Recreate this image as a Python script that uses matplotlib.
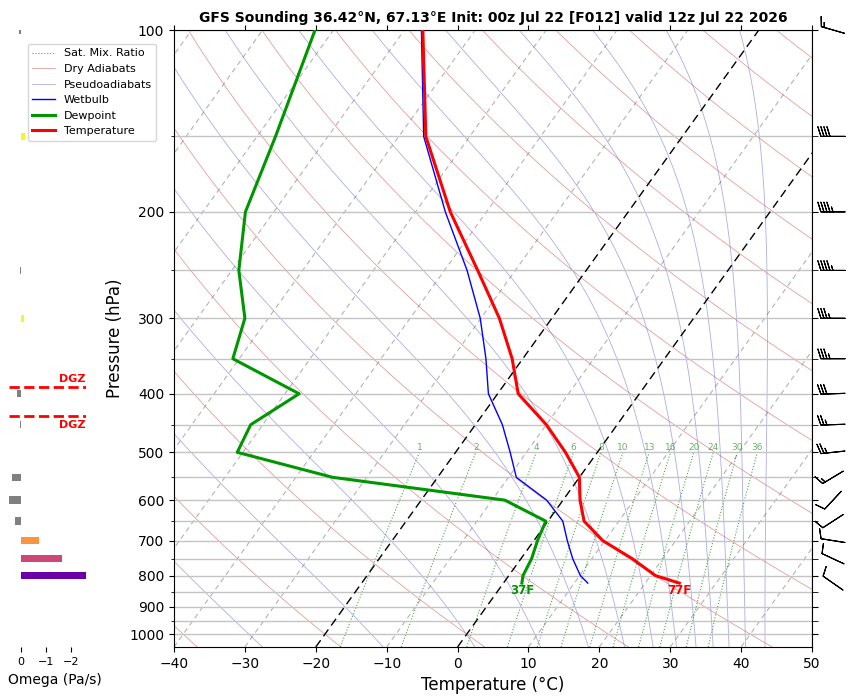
#!/usr/bin/env python3
"""
Skew-T (GFS) com painel de omega à esquerda e barbelas de vento à direita.
Saída: out.png
"""

import numpy as np
import matplotlib
matplotlib.use("Agg")
import matplotlib.pyplot as plt
from matplotlib import transforms
from matplotlib.ticker import NullFormatter

TITLE = "GFS Sounding 36.42°N, 67.13°E Init: 00z Jul 22 [F012] valid 12z Jul 22 2026"

# perfil (hPa, °C)
pressure = [823, 800, 750, 700, 650, 600, 550, 500, 450, 400, 350, 300, 250, 200, 150, 100]
temperature = [24.8, 20.7, 15.7, 9.7, 5.1, 2.4, 0.0, -4.5, -10.0, -17.1, -21.5, -27.4,
               -35.3, -45.1, -56.2, -67.4]
dewpoint = [2.6, 2.0, 1.5, 0.5, -0.3, -8.2, -34.8, -50.8, -51.7, -48.0, -60.9, -63.3,
            -69.0, -74.0, -77.4, -82.6]
wetbulb = [11.9, 10.1, 7.3, 4.7, 2.1, -2.3, -8.9, -12.3, -16.2, -21.3, -25.2, -30.1,
           -36.8, -45.8, -56.5, -67.6]

# vento: direção de onde sopra (graus) e velocidade (kt)
wind_pressure = [823, 750, 700, 650, 600, 550, 500, 450, 400, 350, 300, 250, 200, 150, 100]
wind_dir = [305, 295, 279, 237, 223, 239, 264, 268, 268, 270, 270, 270, 270, 270, 286]
wind_speed = [10, 10, 10, 10, 10, 15, 25, 25, 30, 35, 35, 45, 45, 40, 15]

# omega (Pa/s)
omega_pressure = [100, 150, 250, 300, 400, 450, 550, 600, 650, 700, 750, 800]
omega = [0.08, -0.16, 0.06, -0.12, 0.17, 0.03, 0.36, 0.48, 0.24, -0.72, -1.64, -2.60]

# linhas de fundo
mix_ratios = [1, 2, 4, 6, 8, 10, 13, 16, 20, 24, 30, 36]      # g/kg
dry_t0 = np.arange(-60, 250, 20)                               # °C em 1000 hPa
theta_e = np.arange(223.15, 490, 20)                           # K (pseudoadiabáticas)
isotherms = np.arange(-110, 51, 10)
DGZ_TEMPS = (-12.0, -18.0)

P_BOT, P_TOP = 1050, 100
SKEW = 62.5      # deslocamento em °C do fundo ao topo

RD, CP, LV, EPS = 287.04, 1005.7, 2.501e6, 0.622


def dtdp_moist(t, p):
    es = 6.112 * np.exp(17.67 * (t - 273.15) / (t - 29.65))
    rs = EPS * es / (p - es)
    return (RD * t + LV * rs) / (CP + LV * LV * rs * EPS / (RD * t * t)) / p


def integrate_moist(t_start, plevs):
    out = [t_start]
    t = t_start
    for p1, p2 in zip(plevs[:-1], plevs[1:]):
        h = p2 - p1
        k1 = dtdp_moist(t, p1)
        k2 = dtdp_moist(t + h * k1 / 2, p1 + h / 2)
        k3 = dtdp_moist(t + h * k2 / 2, p1 + h / 2)
        k4 = dtdp_moist(t + h * k3, p2)
        t = t + h * (k1 + 2 * k2 + 2 * k3 + k4) / 6
        out.append(t)
    return np.array(out)


def dewpoint_from_w(w_gkg, p):
    w = w_gkg / 1000.0
    e = p * w / (EPS + w)
    a = np.log(e / 6.112)
    return 243.5 * a / (17.67 - a)


fig = plt.figure(figsize=(8.52, 6.96), dpi=100)
L, B, W, H = 174 / 852, 49 / 696, 638 / 852, 617 / 696
ax = fig.add_axes([L, B, W, H])
ax.set_yscale("log")
ax.set_xlim(-40, 50)
ax.set_ylim(P_BOT, P_TOP)
ax.autoscale(False)

rot = np.degrees(np.arctan(SKEW / 90.0))
skew = ax.transScale + ax.transLimits + transforms.Affine2D().skew_deg(rot, 0) + ax.transAxes

# grade horizontal
ax.set_yticks(range(100, 1001, 100))
ax.set_yticklabels([str(p) for p in range(100, 1001, 100)])
ax.set_yticks(range(150, 1000, 100), minor=True)
ax.yaxis.set_minor_formatter(NullFormatter())
ax.grid(True, axis="y", which="both", color="#c4c4c4", lw=1, zorder=0)
ax.set_xticks(range(-40, 51, 10))
ax.tick_params(axis="x", top=True, labelsize=10)
ax.tick_params(axis="y", labelsize=10)

p_line = np.geomspace(P_BOT, P_TOP, 120)

# isotermas
for t in isotherms:
    if t in (0, -20):
        ax.plot([t, t], [P_BOT, P_TOP], transform=skew, color="k", lw=1,
                dashes=(6, 3.5), zorder=2)
    else:
        ax.plot([t, t], [P_BOT, P_TOP], transform=skew, color="gray", lw=0.8,
                alpha=0.6, dashes=(4.5, 3.5), zorder=1)

# razão de mistura
mix_handle = None
p_mix = np.geomspace(P_BOT, 500, 40)
for w in mix_ratios:
    td = dewpoint_from_w(w, p_mix)
    ln, = ax.plot(td, p_mix, transform=skew, color="green", ls=":", lw=0.8, alpha=0.7, zorder=1)
    mix_handle = mix_handle or ln
    ax.text(td[-1], 500, str(w), transform=skew, ha="center", va="bottom",
            fontsize=6.5, color="green", alpha=0.6)

# adiabáticas secas
dry_handle = None
for t0 in dry_t0:
    t = (t0 + 273.15) * (p_line / 1000.0) ** (RD / CP) - 273.15
    ln, = ax.plot(t, p_line, transform=skew, color="#c8504d", lw=0.6, alpha=0.55, zorder=1)
    dry_handle = dry_handle or ln

# pseudoadiabáticas: partem do topo (quase secas) e descem
p_moist = np.linspace(P_TOP, P_BOT, 191)
t_top = theta_e * (P_TOP / 1000.0) ** (RD / CP)
t_moist = integrate_moist(t_top, p_moist) - 273.15
moist_handle = None
for i in range(len(theta_e)):
    ln, = ax.plot(t_moist[:, i], p_moist, transform=skew, color="#6a6ad0", lw=0.6,
                  alpha=0.55, zorder=1)
    moist_handle = moist_handle or ln

# perfis
wb_line, = ax.plot(wetbulb, pressure, transform=skew, color="blue", lw=1, zorder=4)
td_line, = ax.plot(dewpoint, pressure, transform=skew, color="#009600", lw=2.2, zorder=5)
t_line, = ax.plot(temperature, pressure, transform=skew, color="red", lw=2.2, zorder=6)

t_f = temperature[0] * 9 / 5 + 32
td_f = dewpoint[0] * 9 / 5 + 32
ax.annotate(f"{t_f:.0f}F", (temperature[0], pressure[0]), xycoords=skew,
            xytext=(0, -1), textcoords="offset points", ha="center", va="top",
            color="red", fontsize=8.5, fontweight="bold")
ax.annotate(f"{td_f:.0f}F", (dewpoint[0], pressure[0]), xycoords=skew,
            xytext=(0, -1), textcoords="offset points", ha="center", va="top",
            color="#009600", fontsize=8.5, fontweight="bold")

ax.set_xlabel("Temperature (°C)", fontsize=12)
ax.set_ylabel("Pressure (hPa)", fontsize=12)
ax.set_title(TITLE, fontsize=10, fontweight="bold")

fig.legend([mix_handle, dry_handle, moist_handle, wb_line, td_line, t_line],
           ["Sat. Mix. Ratio", "Dry Adiabats", "Pseudoadiabats", "Wetbulb",
            "Dewpoint", "Temperature"],
           loc="upper left", bbox_to_anchor=(28 / 852, 1 - 44 / 696),
           borderaxespad=0, fontsize=8)

# painel de omega
axo = fig.add_axes([9 / 852, B, 77 / 852, H], sharey=ax)


def omega_color(w):
    if w >= 0:
        return "gray"
    if w > -0.5:
        return "#f0f921"
    if w > -1.0:
        return "#f89540"
    if w > -2.0:
        return "#cc4778"
    return "#6a00a8"


op = np.array(omega_pressure, dtype=float)
axo.barh(op, omega, height=0.028 * op, color=[omega_color(w) for w in omega])
axo.set_xlim(max(omega), min(omega))
for s in axo.spines.values():
    s.set_visible(False)
axo.tick_params(axis="y", which="both", left=False, labelleft=False)
axo.set_xticks([0, -1, -2])
axo.tick_params(axis="x", labelsize=8)

# zona de crescimento dendrítico (-12 a -18 °C)
lp = np.log(pressure)
p_dgz = [np.exp(np.interp(t, temperature[::-1], lp[::-1])) for t in DGZ_TEMPS]
blend = transforms.blended_transform_factory(axo.transAxes, axo.transData)
for p, va, dy in zip(sorted(p_dgz), ["bottom", "top"], [2, -3]):
    axo.axhline(p, color="red", ls="--", lw=2)
    axo.annotate("DGZ", (1.0, p), xycoords=blend, xytext=(0, dy),
                 textcoords="offset points", ha="right", va=va, color="red",
                 fontsize=8, fontweight="bold")
fig.text(8 / 852, 1 - 680 / 696, "Omega (Pa/s)", fontsize=10, va="center")

# barbelas de vento
axb = fig.add_axes([812 / 852, B, 40 / 852, H], sharey=ax)
axb.set_xlim(0, 1)
wd = np.radians(wind_dir)
ws = np.array(wind_speed, dtype=float)
u = -ws * np.sin(wd)
v = -ws * np.cos(wd)
axb.barbs(np.full(len(ws), 0.525), wind_pressure, u, v, length=5.9, pivot="middle",
          lw=0.8, clip_on=False)
for name, s in axb.spines.items():
    s.set_visible(name == "left")
axb.tick_params(axis="x", bottom=False, labelbottom=False)
axb.tick_params(axis="y", which="both", direction="in", length=4.5,
                labelleft=False)

ax.set_ylim(P_BOT, P_TOP)
fig.savefig("out.png", dpi=100)
print("WROTE out.png")
